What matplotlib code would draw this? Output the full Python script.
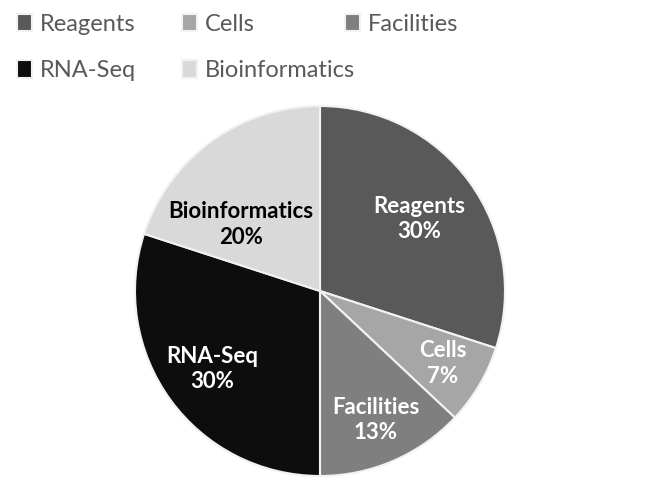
import numpy as np
import matplotlib
matplotlib.use('Agg')
import matplotlib.pyplot as plt

labels = ['Reagents', 'Cells', 'Facilities', 'RNA-Seq', 'Bioinformatics']
values = [30, 7, 13, 30, 20]
colors = ['#595959', '#a6a6a6', '#7f7f7f', '#0d0d0d', '#d9d9d9']
text_colors = ['white', 'white', 'white', 'white', 'black']
# label placement: fraction of radius, angle tweak (deg)
label_r = [0.66, 0.77, 0.76, 0.72, 0.56]
label_dang = [0, 0, 0, 0, 14]

plt.rcParams['font.family'] = ['Lato', 'DejaVu Sans']

fig = plt.figure(figsize=(6.5, 5), dpi=100)
ax = fig.add_axes([135 / 650, 24 / 500, 370 / 650, 370 / 500])
wedges, _ = ax.pie(values, colors=colors, startangle=90, counterclock=False,
                   wedgeprops=dict(edgecolor='#f2f2f2', linewidth=1.5))
ax.set_xlim(-1, 1)
ax.set_ylim(-1, 1)
ax.set_aspect('equal')

for i, w in enumerate(wedges):
    ang = np.deg2rad((w.theta1 + w.theta2) / 2 + label_dang[i])
    x = label_r[i] * np.cos(ang)
    y = label_r[i] * np.sin(ang)
    ax.text(x, y, '%s\n%d%%' % (labels[i], values[i]), ha='center', va='center',
            fontsize=16, fontweight='bold', color=text_colors[i], linespacing=1.25)

# legend: three columns like the original
cols = [[0, 3], [1, 4], [2]]
xs = [17 / 650, 182 / 650, 345 / 650]
for c, x0 in zip(cols, xs):
    fig.legend([wedges[i] for i in c], [labels[i] for i in c],
               loc='upper left', bbox_to_anchor=(x0, 0.972), frameon=False,
               fontsize=17, handlelength=0.65, handleheight=0.75, handletextpad=0.3,
               labelspacing=1.07, labelcolor='#595959', borderaxespad=0, borderpad=0)

fig.savefig('out.png', dpi=100)
